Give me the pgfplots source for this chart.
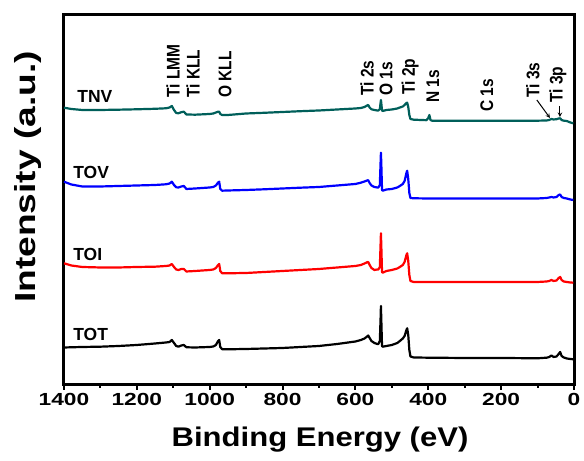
\documentclass[border=0pt]{standalone}
\usepackage{fontspec}
\setmainfont{Liberation Sans}
\newfontfamily\tickfont[FakeStretch=1.3]{Liberation Sans}
\newfontfamily\xlabfont[FakeStretch=1.15]{Liberation Sans}
\newfontfamily\ylabfont[FakeStretch=1.28]{Liberation Sans}
\usepackage{pgfplots}
\pgfplotsset{compat=1.18}
\definecolor{tnv}{RGB}{0,95,90}
\begin{document}
\begin{tikzpicture}
\begin{axis}[
  scale only axis, width=510pt, height=370pt,
  xmin=0, xmax=1400, ymin=0, ymax=370, x dir=reverse,
  axis line style={line width=3pt, line cap=rect},
  xtick={0,200,...,1400}, minor xtick={100,300,...,1300},
  tick align=outside, xtick pos=left, ytick=\empty,
  major tick length=5pt, minor tick length=3pt,
  every tick/.style={line width=2pt, black},
  xticklabel style={font=\tickfont\bfseries\fontsize{17.5}{20}\selectfont},
  /pgf/number format/assume math mode=true,
  /pgf/number format/1000 sep={},
  xlabel={Binding Energy (eV)},
  xlabel style={font=\xlabfont\bfseries\fontsize{27}{30}\selectfont, at={(axis description cs:0.502,-0.1676)}, anchor=base},
  ylabel={Intensity (a.u.)},
  ylabel style={font=\ylabfont\bfseries\fontsize{29}{32}\selectfont, at={(axis description cs:-0.0549,0.562)}, anchor=base, rotate=0},
  clip=false,
  every axis plot/.append style={line width=2.2pt, line join=round},
]
\path (axis description cs:-0.1255,1.0405) (axis description cs:1.0196,-0.2054);
% TOT
\addplot[black] coordinates {(1400,37.5)(1350,38)(1300,38.3)(1250,39)(1200,40)(1150,41.5)(1120,42.5)(1110,43)(1104,45)(1098,42)(1092,39)(1086,38.3)(1078,39.5)(1071,40)(1064,37.7)(1040,37.5)(1000,38)(990,38.5)(983,40)(977,44)(974,45)(971,38)(966,35.8)(950,35.7)(900,36)(850,36.5)(800,37)(750,38)(700,39)(650,41)(600,43.5)(585,45)(575,46.5)(568,48.5)(565,49.5)(561,47)(556,44)(548,42)(540,41)(537,41)(533,44)(531,66)(530,79)(529,66)(527,39)(525,38.3)(515,39)(500,40)(485,42)(478,44)(470,46.5)(465,49)(460,55)(458,56.7)(455,50)(452,35)(449,28.5)(440,27.5)(400,27.3)(300,27)(200,27)(100,26.7)(75,27.3)(68,28)(62,29.5)(56,28)(48,28.5)(42,31)(38,33)(34,29)(28,27.5)(20,26.5)(10,26)(2,25.7)};
% TOI
\addplot[red] coordinates {(1400,121.7)(1380,119.5)(1350,118)(1300,117.5)(1250,117.5)(1200,118)(1150,118.3)(1120,119)(1110,119.5)(1104,121)(1098,118)(1092,115.5)(1086,115)(1078,116)(1071,116)(1064,113.5)(1040,114)(1000,115)(990,115.5)(983,117)(977,120)(974,121)(971,114)(966,111.7)(950,111.7)(900,112)(850,113)(800,114)(750,115)(700,116)(650,117.5)(600,119)(585,120)(575,121.5)(568,122.7)(565,123)(561,120)(556,117)(548,115)(540,115.5)(537,115.5)(533,118)(531,140)(530,151.7)(529,140)(527,113)(525,112.3)(515,114)(500,115)(485,116.5)(478,118)(470,120)(465,123)(460,130)(458,131.7)(455,124)(452,110)(449,104)(440,103)(400,103)(300,103)(200,103)(100,103)(75,103.5)(68,104)(62,105)(56,104)(48,104.5)(42,107)(38,108)(34,105)(28,103.5)(20,103)(10,102.5)(2,102.3)};
% TOV
\addplot[blue] coordinates {(1400,203.3)(1380,200.5)(1350,198.5)(1300,198.5)(1250,199)(1200,199.5)(1150,200)(1120,200.7)(1110,201.5)(1104,203.3)(1098,200)(1092,197.7)(1086,197.5)(1078,198.5)(1071,199)(1064,196)(1040,196.5)(1000,197.5)(990,198)(983,199.5)(977,202.5)(974,203.3)(971,196)(966,194.3)(950,194.5)(900,195)(850,195.7)(800,196.5)(750,197.3)(700,198)(650,199.5)(600,201)(585,202.3)(575,203.5)(568,204.5)(565,204.8)(561,202)(556,199.5)(548,198)(540,197.5)(537,197.5)(533,200)(531,222)(530,232.3)(529,222)(527,195)(525,194.3)(515,195.5)(500,196)(485,197.5)(478,199)(470,201)(465,204)(460,212)(458,214.3)(455,206)(452,192)(449,187)(440,186.7)(400,186.5)(300,186.5)(200,186.5)(100,186.5)(75,187)(68,187.5)(62,188)(56,187.5)(48,188)(42,190)(38,190.5)(34,188)(28,187)(20,186.5)(10,185.5)(2,185)};
% TNV
\addplot[tnv] coordinates {(1400,277.3)(1380,276)(1350,275)(1300,275)(1250,275.3)(1200,275.7)(1150,276.2)(1120,276.7)(1110,277.5)(1104,279)(1098,275)(1092,272)(1086,271.7)(1078,272.8)(1071,273.3)(1064,270.5)(1040,270.3)(1000,271)(990,271.5)(983,272.5)(977,273.3)(974,273.3)(971,271)(966,270)(950,270)(900,271.5)(850,272.2)(800,273)(750,273.8)(700,274.5)(650,275.5)(600,276.5)(585,277)(575,278)(568,279.5)(565,280)(561,277.5)(556,275.7)(548,275)(540,274.5)(537,274.5)(533,276)(531,282)(530,285)(529,282)(527,274.5)(525,274)(515,275)(500,275.5)(485,276.5)(478,277.5)(470,278.5)(465,280)(460,282)(458,282.3)(455,278)(452,270)(449,266)(440,265.3)(420,265)(405,264.8)(400,267)(397,270)(394,265)(390,264.3)(300,264.3)(200,264.3)(100,264.3)(75,264.5)(68,265)(62,266)(56,265.5)(48,265.8)(42,266.5)(38,266.7)(34,265)(28,264.3)(20,264)(10,262.5)(2,261.7)};
% curve labels
\begin{scope}[every node/.style={font=\bfseries\fontsize{17.5}{20}\selectfont, inner sep=0pt, anchor=west}]
\node at (axis cs:1364,289) {TNV};
\node at (axis cs:1375,212.3) {TOV};
\node at (axis cs:1375,131) {TOI};
\node at (axis cs:1375,50.7) {TOT};
\end{scope}
% peak labels
\begin{scope}[every node/.style={font=\bfseries\fontsize{15.5}{18}\selectfont, inner sep=0pt, anchor=west, xscale=1.18, rotate=90}]
\node at (axis cs:1101,287) {Ti LMM};
\node at (axis cs:1046,287) {Ti KLL};
\node at (axis cs:958,287) {O KLL};
\node at (axis cs:568,289) {Ti 2s};
\node at (axis cs:516,289) {O 1s};
\node at (axis cs:450,290) {Ti 2p};
\node at (axis cs:387,282) {N 1s};
\node at (axis cs:239,273) {C 1s};
\node at (axis cs:113,287) {Ti 3s};
\node at (axis cs:44,282) {Ti 3p};
\end{scope}
\draw[-stealth, line width=1pt] (axis cs:102,285) -- (axis cs:66,267);
\draw[-stealth, line width=1pt] (axis cs:38.5,279) -- (axis cs:38.5,268);
\end{axis}
\end{tikzpicture}
\end{document}
